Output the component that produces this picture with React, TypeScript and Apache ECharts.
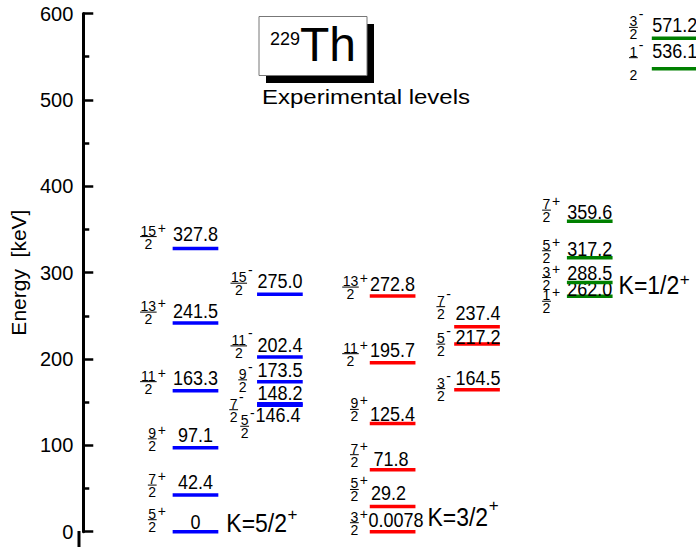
import React, { useEffect, useRef } from "react";
import * as echarts from "echarts";

// ---- data ----
const yTicks = [0, 100, 200, 300, 400, 500, 600];

const blue1Energy = [0, 42.4, 97.1, 163.3, 241.5, 327.8];
const blue1Spin = ["5/2+", "7/2+", "9/2+", "11/2+", "13/2+", "15/2+"];
const blue2Energy = [146.4, 148.2, 173.5, 202.4, 275.0];
const blue2Spin = ["5/2-", "7/2-", "9/2-", "11/2-", "15/2-"];
const red1Energy = [0.0078, 29.2, 71.8, 125.4, 195.7, 272.8];
const red1Spin = ["3/2+", "5/2+", "7/2+", "9/2+", "11/2+", "13/2+"];
const red2Energy = [164.5, 217.2, 237.4];
const red2Spin = ["3/2-", "5/2-", "7/2-"];
const green1Energy = [262.0, 288.5, 317.2, 359.6];
const green1Drawn = [272.6, 288.5, 317.2, 359.6]; // heights at which the lines are drawn in the figure
const green1Spin = ["1/2+", "3/2+", "5/2+", "7/2+"];
const green2Energy = [536.1, 571.2];
const green2Spin = ["1/2-", "3/2-"];

const titleIsotope = ["229", "Th"];
const subtitle = "Experimental levels";
const yName = "Energy  [keV]";

// ---- layout / style ----
const FONT = "'Liberation Sans', Arial, sans-serif";
const HALF = 23;
const LEVEL_FONT = 18;
const FRAC_FONT = 14;
const DIGIT_W = 0.556 * FRAC_FONT;

const CHAR_W: Record<string, number> = { K: 0.667, "=": 0.584, "/": 0.278, ".": 0.278 };
const textWidth = (s: string, fs: number) =>
  s.split("").reduce((a, c) => a + (CHAR_W[c] ?? 0.556), 0) * fs;

const fmt = (e: number) => (e === 0 ? "0" : e < 1 ? String(e) : e.toFixed(1));

type Band = {
  energy: number[];
  drawn: number[];
  spin: string[];
  color: string;
  cx: number;
  gap: number;
  textDy: number[];
  textDx?: number[];
  fracDy: number[];
  fracDx?: number[];
  denExtra?: number[];
  k?: { text: string; sup: string; dx: number; dy: number; supDy: number };
};

const BANDS: Band[] = [
  {
    energy: blue1Energy, drawn: blue1Energy, spin: blue1Spin, color: "#0000ff", cx: 113, gap: 16,
    textDy: [-9, -13, -13, -12, -12, -14],
    fracDy: [-12, -10, -9, -9, -11, -12],
    k: { text: "K=5/2", sup: "+", dx: 8, dy: -9, supDy: -8 },
  },
  {
    energy: blue2Energy, drawn: blue2Energy, spin: blue2Spin, color: "#0000ff", cx: 198, gap: 10,
    textDy: [10, -10, -12, -12, -12.5],
    textDx: [-2, 0, 0, 0, 0],
    fracDy: [21, 6, -2, -11, -11],
    fracDx: [2, -9, 0, 0, 0],
  },
  {
    energy: red1Energy, drawn: red1Energy, spin: red1Spin, color: "#ff0000", cx: 311.5, gap: 11,
    textDy: [-11, -13.5, -10, -9, -12, -12],
    textDx: [3.5, -4, -1.5, 0, 0, 0],
    fracDy: [-9, -17, -15, -14, -9, -9],
    k: { text: "K=3/2", sup: "+", dx: 12, dy: -15, supDy: -11 },
  },
  {
    energy: red2Energy, drawn: red2Energy, spin: red2Spin, color: "#ff0000", cx: 396.5, gap: 9,
    textDy: [-11, -7, -13],
    textDx: [1, 1, 1],
    fracDy: [-1, 0, -20],
  },
  {
    energy: green1Energy, drawn: green1Drawn, spin: green1Spin, color: "#008000", cx: 510, gap: 16,
    textDy: [-7.5, -9.5, -8.5, -9],
    fracDy: [5, -5, -7, -11],
    k: { text: "K=1/2", sup: "+", dx: 6, dy: -11, supDy: -6 },
  },
  {
    energy: green2Energy, drawn: green2Energy, spin: green2Spin, color: "#008000", cx: 595.5, gap: 14,
    textDy: [-17, -12.7],
    fracDy: [-11, -11],
    denExtra: [10, 0],
  },
];

const txt = (x: number, y: number, text: string, fontSize: number, align = "center", extra: any = {}) => ({
  type: "text",
  x,
  y,
  ...extra,
  style: { text, fontSize, fontFamily: FONT, fill: "#000", align, verticalAlign: "middle" },
});

function makeSeries(band: Band) {
  return {
    type: "custom",
    coordinateSystem: "cartesian2d",
    clip: false,
    data: band.drawn.map((e) => [band.cx, e]),
    encode: { x: 0, y: 1 },
    renderItem: (params: any, api: any) => {
      const i = params.dataIndex;
      const xv = api.value(0);
      const yv = api.value(1);
      const [left, ly] = api.coord([xv - HALF, yv]);
      const right = api.coord([xv + HALF, yv])[0];
      const children: any[] = [];
      children.push({
        type: "line",
        shape: { x1: left, y1: ly, x2: right, y2: ly },
        style: { stroke: band.color, lineWidth: 3.5 },
      });
      const mid = (left + right) / 2 + (band.textDx ? band.textDx[i] : 0);
      children.push(txt(mid, ly + band.textDy[i], fmt(band.energy[i]), LEVEL_FONT, "center", { scaleY: 1.08 }));

      // spin fraction
      const m = band.spin[i].match(/^(\d+)\/(\d+)([+-])$/);
      if (m) {
        const [, num, den, par] = m;
        const fr = left - band.gap + (band.fracDx ? band.fracDx[i] : 0);
        const barW = num.length * DIGIT_W + 1;
        const fc = fr - barW / 2;
        const by = ly + band.fracDy[i];
        const dex = band.denExtra ? band.denExtra[i] : 0;
        children.push(txt(fc, by - 6, num, FRAC_FONT));
        children.push({
          type: "line",
          shape: { x1: fr - barW, y1: by, x2: fr, y2: by },
          style: { stroke: "#000", lineWidth: 1 },
        });
        children.push(txt(fc, by + 7 + dex, den, FRAC_FONT));
        if (par === "+") children.push(txt(fr + 1, by - 9, "+", FRAC_FONT, "left"));
        else children.push(txt(fr + 1, by - 13, "-", FRAC_FONT, "left"));
      }

      if (band.k && i === 0) {
        const kx = right + band.k.dx;
        const ky = ly + band.k.dy;
        children.push(txt(kx, ky, band.k.text, 23, "left", { scaleY: 1.1 }));
        children.push(txt(kx + textWidth(band.k.text, 23) + 0.5, ky + band.k.supDy, band.k.sup, 17, "left"));
      }
      return { type: "group", children };
    },
  };
}

export default function App() {
  const ref = useRef<HTMLDivElement>(null);
  useEffect(() => {
    if (!ref.current) return;
    const chart = echarts.init(ref.current, undefined, { renderer: "svg" });
    chart.setOption({
      animation: false,
      backgroundColor: "#fff",
      grid: { left: 79, right: 0, top: 13.5, bottom: 15.3, containLabel: false },
      xAxis: { type: "value", min: 0, max: 617, show: false },
      yAxis: {
        type: "value",
        min: yTicks[0],
        max: yTicks[yTicks.length - 1],
        interval: yTicks[1] - yTicks[0],
        name: yName,
        nameLocation: "middle",
        nameRotate: 90,
        nameGap: 46,
        nameTextStyle: { fontSize: 21, fontFamily: FONT, color: "#000" },
        axisLine: { show: true, lineStyle: { color: "#000", width: 3 } },
        axisTick: { show: true, inside: true, length: 10, lineStyle: { color: "#000", width: 2.5 } },
        minorTick: { show: true, splitNumber: 2, length: 6, lineStyle: { color: "#000", width: 2.5 } },
        axisLabel: {
          fontSize: 20,
          fontFamily: FONT,
          color: "#000",
          margin: 10,
          formatter: (v: number) => (yTicks.includes(v) ? String(v) : ""),
        },
        splitLine: { show: false },
      },
      graphic: [
        { type: "line", shape: { x1: 79, y1: 531, x2: 79, y2: 547 }, style: { stroke: "#000", lineWidth: 3 } },
        { type: "rect", shape: { x: 266, y: 24, width: 108, height: 59 }, style: { fill: "#000" } },
        { type: "rect", shape: { x: 259, y: 16.5, width: 108, height: 59 }, style: { fill: "#fff", stroke: "#777", lineWidth: 1 } },
        {
          type: "text", x: 270, y: 38.5,
          style: { text: titleIsotope[0], fontSize: 18, fontFamily: FONT, fill: "#000", align: "left", verticalAlign: "middle" },
        },
        {
          type: "text", x: 300, y: 44,
          style: { text: titleIsotope[1], fontSize: 48, fontFamily: FONT, fill: "#000", align: "left", verticalAlign: "middle" },
        },
        {
          type: "text", x: 262, y: 97, scaleX: 1.2,
          style: { text: subtitle, fontSize: 20, fontFamily: FONT, fill: "#000", align: "left", verticalAlign: "middle" },
        },
      ],
      series: BANDS.map(makeSeries),
    });
    return () => chart.dispose();
  }, []);
  return <div ref={ref} style={{ position: "fixed", left: 0, top: 0, width: 696, height: 547 }} />;
}
